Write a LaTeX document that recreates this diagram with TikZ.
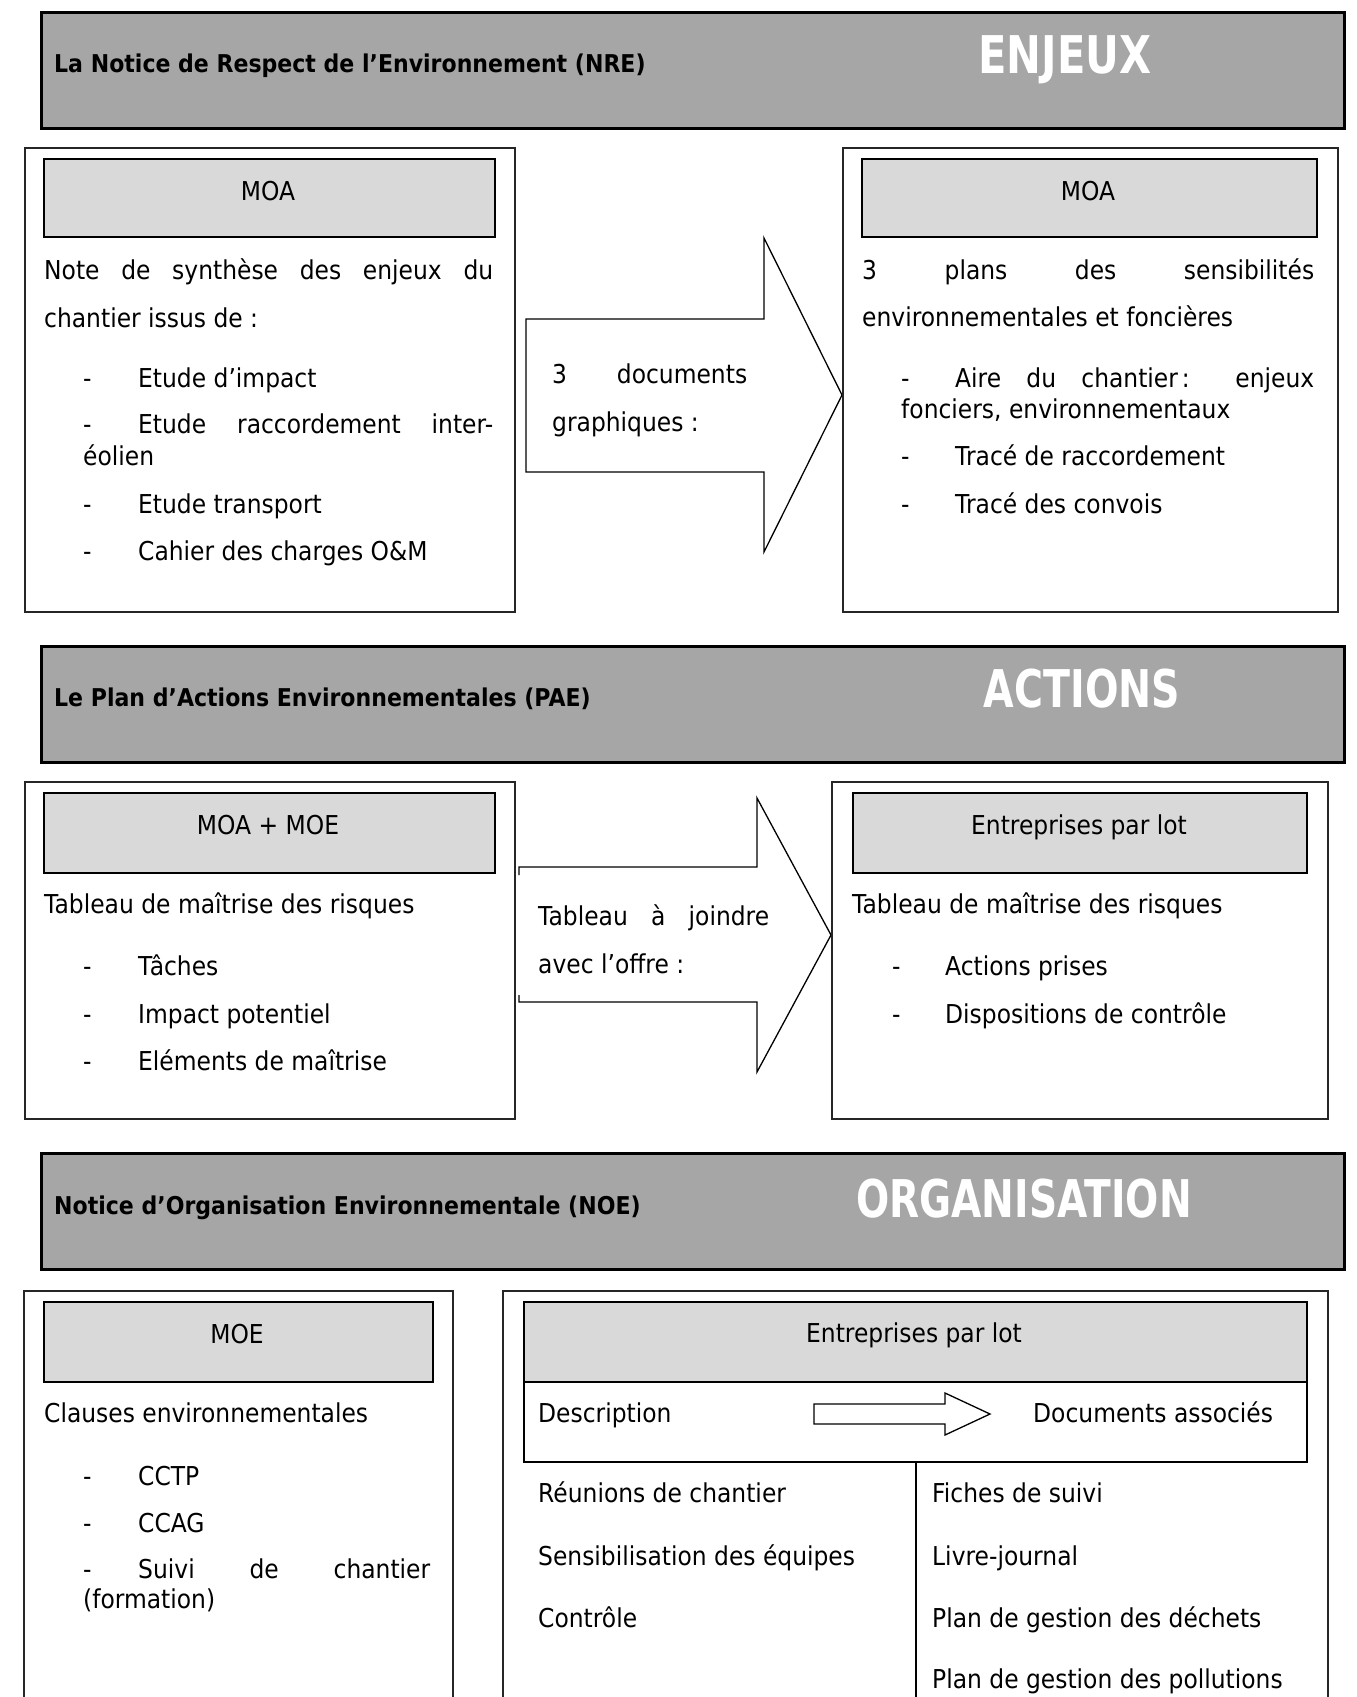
\documentclass[tikz,border=0pt]{standalone}
\usepackage{fontspec}
\setmainfont{DejaVu Sans}[FakeStretch=0.9]
\newfontfamily\bigfont{DejaVu Sans}[FakeStretch=0.8]
\definecolor{hdrgray}{HTML}{A6A6A6}
\definecolor{lblgray}{HTML}{D9D9D9}
\begin{document}
\begin{tikzpicture}[x=1pt,y=-1pt,
  hdr/.style={draw=black, line width=2.5pt, fill=hdrgray, anchor=north west, inner sep=0pt},
  outerbox/.style={draw=black!85, line width=1.6pt, fill=white, anchor=north west, inner sep=0pt},
  lbl/.style={draw=black, line width=2pt, fill=lblgray, anchor=north west, inner sep=0pt},
  rowbox/.style={draw=black, line width=2pt, fill=white, anchor=north west, inner sep=0pt},
  txt/.style={anchor=base west, inner sep=0pt, font=\fontsize{26}{30}\selectfont},
  ctxt/.style={anchor=base, inner sep=0pt, font=\fontsize{26}{30}\selectfont},
  ttl/.style={anchor=base west, inner sep=0pt, font=\fontsize{24.5}{30}\selectfont\bfseries},
  big/.style={anchor=base, inner sep=0pt, text=white, font=\fontsize{52}{60}\selectfont\bigfont\bfseries},
  blockarrow/.style={draw=black, line width=1.3pt, fill=white}
]
\useasboundingbox (0,0) rectangle (1357,1697);
\fill[white] (0,0) rectangle (1357,1697);

% ===== Section 1 =====
\node[hdr, minimum width=1303pt, minimum height=116pt] (h1) at (40,11) {};
\node[ttl] (h1t) at (54,72) {La Notice de Respect de l’Environnement (NRE)};
\node[big] (h1b) at (1065,73) {ENJEUX};

\node[outerbox, minimum width=490pt, minimum height=464pt] (o1L) at (24,147) {};
\node[lbl, minimum width=451pt, minimum height=78pt] (g1L) at (43,158) {};
\node[ctxt] (g1Lt) at (268,200) {MOA};
\node[txt] (t1a) at (44,279) {\makebox[449pt][s]{Note de synthèse des enjeux du}};
\node[txt] (t1b) at (44,327) {chantier issus de :};
\node[txt] (t1c) at (83,387) {-};
\node[txt] (t1d) at (138,387) {Etude d’impact};
\node[txt] (t1e) at (83,433) {-};
\node[txt] (t1f) at (138,433) {\makebox[355pt][s]{Etude raccordement inter-}};
\node[txt] (t1g) at (83,465) {éolien};
\node[txt] (t1h) at (83,513) {-};
\node[txt] (t1i) at (138,513) {Etude transport};
\node[txt] (t1j) at (83,560) {-};
\node[txt] (t1k) at (138,560) {Cahier des charges O\&M};

\draw[blockarrow] (526,319) -- (764,319) -- (764,238) -- (842,395) -- (764,552) -- (764,472) -- (526,472) -- cycle;
\node[txt] (a1a) at (552,383) {\makebox[195pt][s]{3 documents}};
\node[txt] (a1b) at (552,431) {graphiques :};

\node[outerbox, minimum width=495pt, minimum height=464pt] (o1R) at (842,147) {};
\node[lbl, minimum width=455pt, minimum height=78pt] (g1R) at (861,158) {};
\node[ctxt] (g1Rt) at (1088,200) {MOA};
\node[txt] (r1a) at (862,279) {\makebox[452pt][s]{3 plans des sensibilités}};
\node[txt] (r1b) at (862,326) {environnementales et foncières};
\node[txt] (r1c) at (901,387) {-};
\node[txt] (r1d) at (955,387) {\makebox[359pt][s]{Aire du {chantier\kern4pt:} enjeux}};
\node[txt] (r1e) at (901,418) {fonciers, environnementaux};
\node[txt] (r1f) at (901,465) {-};
\node[txt] (r1g) at (955,465) {Tracé de raccordement};
\node[txt] (r1h) at (901,513) {-};
\node[txt] (r1i) at (955,513) {Tracé des convois};

% ===== Section 2 =====
\node[hdr, minimum width=1303pt, minimum height=116pt] (h2) at (40,645) {};
\node[ttl] (h2t) at (54,706) {Le Plan d’Actions Environnementales (PAE)};
\node[big] (h2b) at (1082,707) {\scalebox{0.95}[1]{ACTIONS}};

\node[outerbox, minimum width=490pt, minimum height=337pt] (o2L) at (24,781) {};
\node[lbl, minimum width=451pt, minimum height=80pt] (g2L) at (43,792) {};
\node[ctxt] (g2Lt) at (268,834) {MOA + MOE};
\node[txt] (t2a) at (44,913) {Tableau de maîtrise des risques};
\node[txt] (t2b) at (83,975) {-};
\node[txt] (t2c) at (138,975) {Tâches};
\node[txt] (t2d) at (83,1023) {-};
\node[txt] (t2e) at (138,1023) {Impact potentiel};
\node[txt] (t2f) at (83,1070) {-};
\node[txt] (t2g) at (138,1070) {Eléments de maîtrise};

\fill[white] (519,867) -- (757,867) -- (757,798) -- (831,935) -- (757,1072) -- (757,1002) -- (519,1002) -- cycle;
\draw[line width=1.3pt] (519,875) -- (519,867) -- (757,867) -- (757,798) -- (831,935) -- (757,1072) -- (757,1002) -- (519,1002) -- (519,995);
\node[txt] (a2a) at (538,925) {\makebox[231pt][s]{Tableau à joindre}};
\node[txt] (a2b) at (538,973) {avec l’offre :};

\node[outerbox, minimum width=496pt, minimum height=337pt] (o2R) at (831,781) {};
\node[lbl, minimum width=454pt, minimum height=80pt] (g2R) at (852,792) {};
\node[ctxt] (g2Rt) at (1079,834) {Entreprises par lot};
\node[txt] (r2a) at (852,913) {Tableau de maîtrise des risques};
\node[txt] (r2b) at (892,975) {-};
\node[txt] (r2c) at (945,975) {Actions prises};
\node[txt] (r2d) at (892,1023) {-};
\node[txt] (r2e) at (945,1023) {Dispositions de contrôle};

% ===== Section 3 =====
\node[hdr, minimum width=1303pt, minimum height=116pt] (h3) at (40,1152) {};
\node[ttl] (h3t) at (54,1214) {Notice d’Organisation Environnementale (NOE)};
\node[big] (h3b) at (1024,1217) {\scalebox{0.94}[1]{ORGANISATION}};

\node[outerbox, minimum width=429pt, minimum height=440pt] (o3L) at (23,1290) {};
\node[lbl, minimum width=389pt, minimum height=80pt] (g3L) at (43,1301) {};
\node[ctxt] (g3Lt) at (237,1343) {MOE};
\node[txt] (t3a) at (44,1422) {Clauses environnementales};
\node[txt] (t3b) at (83,1485) {-};
\node[txt] (t3c) at (138,1485) {CCTP};
\node[txt] (t3d) at (83,1532) {-};
\node[txt] (t3e) at (138,1532) {CCAG};
\node[txt] (t3f) at (83,1578) {-};
\node[txt] (t3g) at (138,1578) {\makebox[292pt][s]{Suivi de chantier}};
\node[txt] (t3h) at (83,1608) {(formation)};

\node[outerbox, minimum width=825pt, minimum height=440pt] (o3R) at (502,1290) {};
\node[lbl, minimum width=783pt, minimum height=80pt] (tbH) at (523,1301) {};
\node[ctxt] (tbHt) at (914,1342) {Entreprises par lot};
\node[rowbox, minimum width=783pt, minimum height=80pt] (tbD) at (523,1381) {};
\node[txt] (desc) at (538,1422) {Description};
\node[txt] (docs) at (1033,1422) {Documents associés};
\draw[blockarrow] (814,1404) -- (945,1404) -- (945,1393) -- (990,1414) -- (945,1435) -- (945,1424) -- (814,1424) -- cycle;
\coordinate (divend) at (916,1730);
\draw[line width=1.6pt] (tbD.south west -| divend) -- (divend);
\node[txt] (c1a) at (538,1502) {Réunions de chantier};
\node[txt] (c1b) at (538,1565) {Sensibilisation des équipes};
\node[txt] (c1c) at (538,1627) {Contrôle};
\node[txt] (c2a) at (932,1502) {Fiches de suivi};
\node[txt] (c2b) at (932,1565) {Livre-journal};
\node[txt] (c2c) at (932,1627) {Plan de gestion des déchets};
\node[txt] (c2d) at (932,1688) {Plan de gestion des pollutions};
\end{tikzpicture}
\end{document}
